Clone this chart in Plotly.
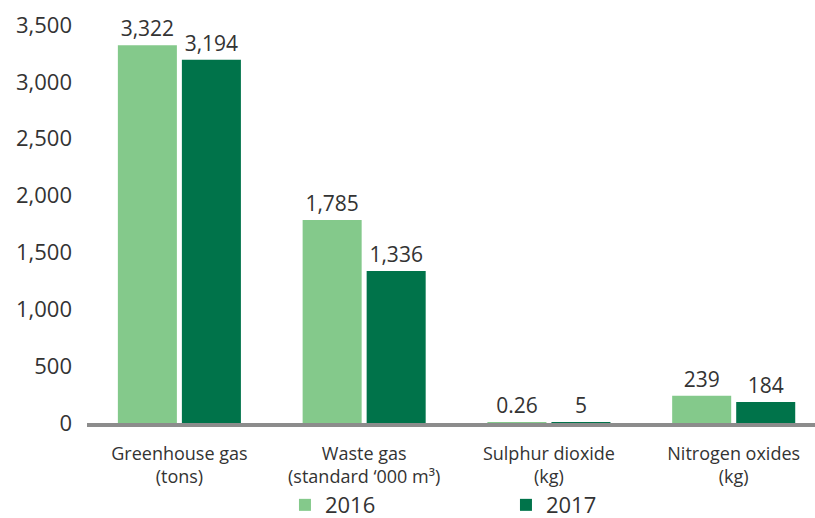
import plotly.graph_objects as go

categories = ["Greenhouse gas<br>(tons)", "Waste gas<br>(standard ‘000 m³)",
              "Sulphur dioxide<br>(kg)", "Nitrogen oxides<br>(kg)"]
values_2016 = [3322, 1785, 0.26, 239]
values_2017 = [3194, 1336, 5, 184]
labels_2016 = ["3,322", "1,785", "0.26", "239"]
labels_2017 = ["3,194", "1,336", "5", "184"]
y_ticks = [0, 500, 1000, 1500, 2000, 2500, 3000, 3500]
y_ticktext = ["0", "500", "1,000", "1,500", "2,000", "2,500", "3,000", "3,500"]

LIGHT = "#84C98B"
DARK = "#00734A"
TXT = "#333333"
FONT = "Open Sans"

x_idx = list(range(len(categories)))

fig = go.Figure()
fig.add_trace(go.Bar(x=x_idx, y=values_2016, name="2016", marker_color=LIGHT,
                     marker_line_width=0,
                     text=labels_2016, textposition="outside", cliponaxis=False,
                     textfont=dict(size=21, color=TXT, family=FONT)))
fig.add_trace(go.Bar(x=x_idx, y=values_2017, name="2017", marker_color=DARK,
                     marker_line_width=0,
                     text=labels_2017, textposition="outside", cliponaxis=False,
                     textfont=dict(size=21, color=TXT, family=FONT)))

fig.update_layout(
    width=815, height=518,
    margin=dict(l=87, r=0, t=25, b=95, autoexpand=False),
    paper_bgcolor="white", plot_bgcolor="white",
    barmode="group", bargap=0.307, bargroupgap=0.078,
    font=dict(family=FONT, color=TXT),
    showlegend=True,
    legend=dict(orientation="h", x=0.5755, xanchor="center",
                yref="container", y=0.025, yanchor="middle",
                bgcolor="rgba(0,0,0,0)",
                font=dict(size=22, color=TXT, family=FONT), entrywidth=176,
                itemclick=False),
    xaxis=dict(range=[-0.5, 3.44], tickmode="array", tickvals=x_idx, ticktext=categories,
               showline=True, linecolor="#8C8C8C", linewidth=4, showgrid=False,
               zeroline=False, ticks="", tickfont=dict(size=18, color=TXT, family=FONT),
               ticklabelstandoff=11),
    yaxis=dict(range=[0, 3500], tickmode="array", tickvals=y_ticks, ticktext=y_ticktext,
               showgrid=False, zeroline=False, showline=False, ticks="",
               tickfont=dict(size=22, color=TXT, family=FONT), ticklabelstandoff=14),
)

fig.write_html("out.html")
